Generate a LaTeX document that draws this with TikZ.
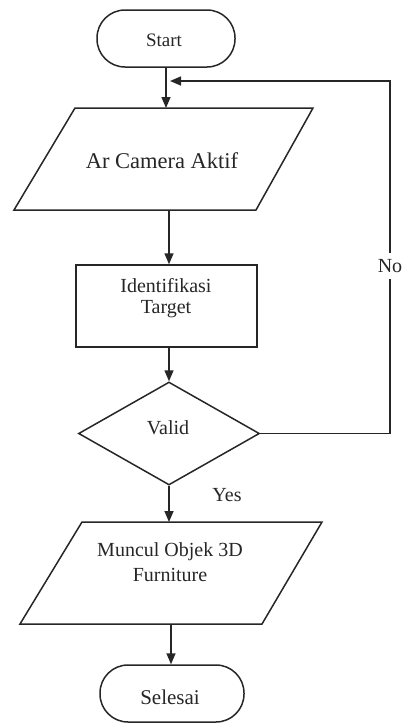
\documentclass[tikz,border=0pt]{standalone}
\usepackage{fontspec}
\setmainfont{Liberation Serif}
\usetikzlibrary{arrows.meta,shapes.geometric}
\begin{document}
\begin{tikzpicture}[x=1pt,y=-1pt,
  line width=1.5pt, draw=black!85,
  shp/.style={draw=black!85, line width=1.5pt, inner sep=0pt},
  term/.style={shp, rectangle, rounded corners=28pt},
  lbl/.style={inner sep=0pt, font=\fontsize{20}{21}\selectfont, text=black!85},
  arr/.style={-{Triangle[length=11pt,width=9pt]}, line width=1.5pt, draw=black!85}]
\useasboundingbox (0,0) rectangle (409,724);
% Start
\node[term, minimum width=138pt, minimum height=57pt] (start) at (166,38.5) {};
\node[lbl, font=\fontsize{19}{21}\selectfont] (starttx) at (164,40) {Start};
% Parallelogram 1
\draw[shp] (75,108) -- (313,108) -- (256,210) -- (14,210) -- cycle;
\coordinate (p1n) at (166,108);
\coordinate (p1s) at (169,210);
\node[lbl, font=\fontsize{22.5}{24}\selectfont] (p1tx) at (162,161) {Ar Camera Aktif};
% Rectangle
\node[shp, rectangle, minimum width=181pt, minimum height=82pt] (rect) at (166.5,306) {};
\node[lbl, align=center, font=\fontsize{20}{21}\selectfont] (recttx) at (166,298.5) {Identifikasi\\Target};
% Diamond
\node[shp, diamond, minimum width=181pt, minimum height=103pt] (dia) at (169,433.5) {};
\node[lbl] (diatx) at (168,428) {Valid};
% Parallelogram 2
\draw[shp] (82,522) -- (322,522) -- (262,624) -- (20,624) -- cycle;
\coordinate (p2n) at (170,522);
\coordinate (p2s) at (171,624);
\node[lbl, align=center, font=\fontsize{20}{25}\selectfont] (p2tx) at (170,562.5) {Muncul Objek 3D\\Furniture};
% Selesai
\node[term, minimum width=144pt, minimum height=57pt] (end) at (172,693.5) {};
\node[lbl, font=\fontsize{21}{22}\selectfont] (endtx) at (170,697) {Selesai};
% connectors
\draw[arr] (start.south) -- (p1n);
\draw[arr] (p1s) -- (p1s |- rect.north);
\draw[arr] (dia.north |- rect.south) -- (dia.north);
\draw[arr] (dia.south) -- (dia.south |- p2n);
\draw[arr] (p2s) -- (p2s |- end.north);
% No loop
\coordinate (corner1) at (390,433.5);
\coordinate (corner2) at (390,81);
\coordinate (looptip) at (170,81);
\draw[arr] (dia.east) -- (corner1) -- (corner2) -- (looptip);
\node[lbl, fill=white, inner ysep=6pt] (no) at (390,266) {No};
\node[lbl] (yes) at (227,495) {Yes};
\end{tikzpicture}
\end{document}
